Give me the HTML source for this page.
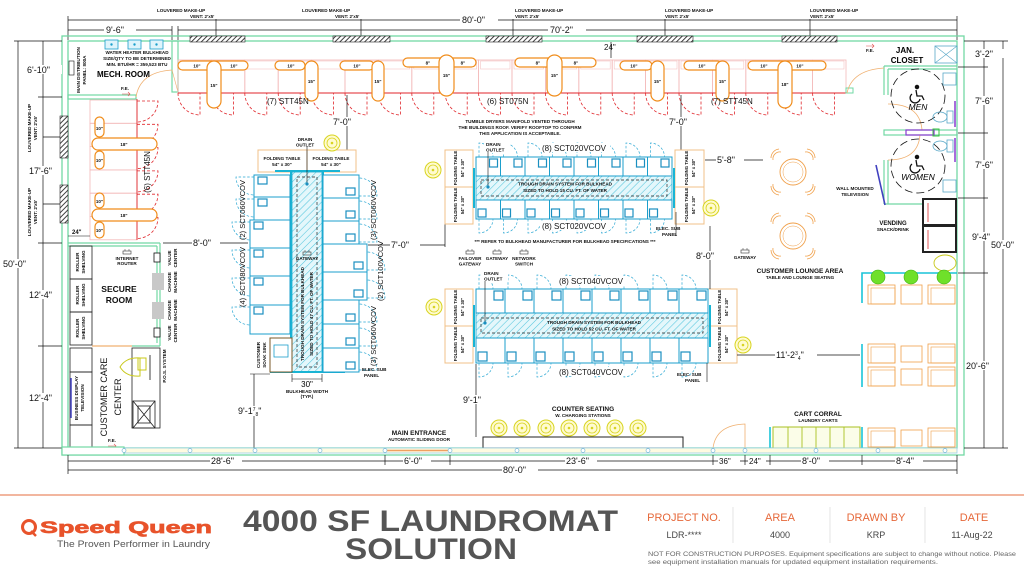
<!DOCTYPE html>
<html><head><meta charset="utf-8">
<style>
html,body{margin:0;padding:0;background:#fff;}
svg{display:block}
text{font-family:"Liberation Sans",sans-serif;}
.s{font-size:4.6px;font-weight:bold;fill:#111}
.m{font-size:8px;fill:#111}
.d{font-size:9px;fill:#111}
.b{font-size:8.5px;font-weight:bold;fill:#111}
</style></head><body>
<svg width="1024" height="576" viewBox="0 0 1024 576" xmlns="http://www.w3.org/2000/svg">
<defs>
<pattern id="hatch" width="3.5" height="3.5" patternUnits="userSpaceOnUse" patternTransform="rotate(45)"><rect width="3.5" height="3.5" fill="#fff"/><line x1="0" y1="0" x2="0" y2="3.5" stroke="#2a2a2a" stroke-width="1.8"/></pattern>
<pattern id="chatch" width="5" height="5" patternUnits="userSpaceOnUse" patternTransform="rotate(45)"><rect width="5" height="5" fill="#e4f7fb"/><line x1="0" y1="0" x2="0" y2="5" stroke="#55c6dd" stroke-width="1.1"/></pattern>
<g id="dr">
<rect x="0" y="0" width="33.4" height="33" fill="none" stroke="#f3b9b9" stroke-width="0.8"/>
<rect x="2" y="1" width="29.4" height="8" fill="none" stroke="#f3c4c4" stroke-width="0.6"/>
<path d="M0 33 A22 22 0 0 0 22 55 V33" fill="none" stroke="#e0262b" stroke-dasharray="3 2" stroke-width="0.8"/>
</g>
<g id="ldr">
<rect x="0" y="0" width="47" height="23.3" fill="none" stroke="#f3b9b9" stroke-width="0.8"/>
<path d="M47 1 H68 A21 21 0 0 1 47 22" fill="none" stroke="#e0262b" stroke-dasharray="3 2" stroke-width="0.8"/>
</g>
<g id="yc"><circle r="8" fill="#fffbd0" stroke="#d8d420" stroke-width="1"/><circle r="5" fill="none" stroke="#d8d420" stroke-width="0.8"/><circle r="1.3" fill="#d8d420"/></g>
<g id="gw"><rect x="-4" y="-2" width="8" height="3" fill="none" stroke="#333" stroke-width="0.6"/><line x1="-2" y1="-2" x2="-2" y2="-4" stroke="#333" stroke-width="0.5"/><line x1="2" y1="-2" x2="2" y2="-4" stroke="#333" stroke-width="0.5"/></g>
<g id="w1t"><rect x="0" y="0" width="24.5" height="19" fill="#fff" stroke="#1b9fcc" stroke-width="1"/><rect x="13.5" y="2" width="8" height="8" fill="#fff" stroke="#1b8fc0" stroke-width="1.2"/><path d="M3 0 V-14 A14 14 0 0 1 17 0" fill="none" stroke="#2aa7d3" stroke-dasharray="2.5 1.8" stroke-width="0.7"/></g>
<g id="w1b"><rect x="0" y="0" width="24.5" height="19" fill="#fff" stroke="#1b9fcc" stroke-width="1"/><rect x="2" y="9" width="8" height="8" fill="#fff" stroke="#1b8fc0" stroke-width="1.2"/><path d="M3 19 V33 A14 14 0 0 0 17 19" fill="none" stroke="#2aa7d3" stroke-dasharray="2.5 1.8" stroke-width="0.7"/></g>
<g id="w2t"><rect x="0" y="0" width="29" height="24" fill="#fff" stroke="#1b9fcc" stroke-width="1"/><rect x="18" y="2" width="9" height="9" fill="#fff" stroke="#1b8fc0" stroke-width="1.2"/><path d="M3 0 V-14 A14 14 0 0 1 17 0" fill="none" stroke="#2aa7d3" stroke-dasharray="2.5 1.8" stroke-width="0.7"/></g>
<g id="w2b"><rect x="0" y="0" width="29" height="25" fill="#fff" stroke="#1b9fcc" stroke-width="1"/><rect x="2" y="14" width="9" height="9" fill="#fff" stroke="#1b8fc0" stroke-width="1.2"/><path d="M3 25 V39 A14 14 0 0 0 17 25" fill="none" stroke="#2aa7d3" stroke-dasharray="2.5 1.8" stroke-width="0.7"/></g>
<g id="tbl"><circle r="13" fill="none" stroke="#f0a04a" stroke-width="0.9"/><circle r="10" fill="none" stroke="#f0a04a" stroke-width="0.5"/>
<g fill="none" stroke="#f0a04a" stroke-width="0.8"><path d="M-20 -12 a7 7 0 0 1 8 -8 M-22 -14 a9 9 0 0 1 8 -9"/><path d="M20 -12 a7 7 0 0 0 -8 -8 M22 -14 a9 9 0 0 0 -8 -9"/><path d="M-20 12 a7 7 0 0 0 8 8 M-22 14 a9 9 0 0 0 8 9"/><path d="M20 12 a7 7 0 0 1 -8 8 M22 14 a9 9 0 0 1 -8 9"/></g></g>
<g id="chair"><rect x="0" y="0" width="27" height="19" fill="none" stroke="#f0a04a" stroke-width="0.8"/><rect x="3" y="3" width="24" height="16" fill="none" stroke="#f0a04a" stroke-width="0.6"/></g>
</defs>

<rect width="1024" height="576" fill="#fff"/>

<!-- ===== top labels & dims ===== -->
<g class="s">
<text x="157" y="12">LOUVERED MAKE-UP</text><text x="190" y="18">VENT: 2'x5'</text>
<text x="302" y="12">LOUVERED MAKE-UP</text><text x="335" y="18">VENT: 2'x5'</text>
<text x="515" y="12">LOUVERED MAKE-UP</text><text x="515" y="18">VENT: 2'x5'</text>
<text x="665" y="12">LOUVERED MAKE-UP</text><text x="665" y="18">VENT: 2'x5'</text>
<text x="810" y="12">LOUVERED MAKE-UP</text><text x="810" y="18">VENT: 2'x5'</text>
</g>
<g stroke="#111" stroke-width="0.7">
<line x1="216" y1="19" x2="216" y2="36"/><line x1="361" y1="19" x2="361" y2="36"/><line x1="513" y1="19" x2="513" y2="36"/><line x1="665" y1="19" x2="665" y2="36"/><line x1="810" y1="19" x2="810" y2="36"/>
<line x1="68" y1="20" x2="957" y2="20"/><line x1="68" y1="30" x2="172" y2="30"/><line x1="178" y1="30" x2="957" y2="30"/>
<line x1="68" y1="16" x2="68" y2="40"/><line x1="957" y1="16" x2="957" y2="40"/><line x1="172" y1="26" x2="172" y2="40"/><line x1="178" y1="26" x2="178" y2="40"/>
</g>
<g fill="#fff"><rect x="460" y="15" width="38" height="9"/><rect x="104" y="25" width="32" height="9"/><rect x="548" y="25" width="38" height="9"/></g>
<text class="d" x="462" y="23">80'-0"</text><text class="d" x="106" y="33">9'-6"</text><text class="d" x="550" y="33">70'-2"</text>

<!-- ===== outer walls ===== -->
<g fill="none" stroke="#72d8a4" stroke-width="1.3">
<rect x="62" y="36" width="902" height="419"/>
<rect x="68" y="41" width="889" height="407"/>
</g>
<g fill="url(#hatch)" stroke="#222" stroke-width="0.6">
<rect x="190" y="36" width="55" height="6"/><rect x="333" y="36" width="57" height="6"/><rect x="486" y="36" width="56" height="6"/><rect x="637" y="36" width="56" height="6"/><rect x="782" y="36" width="55" height="6"/>
<rect x="60" y="116" width="8" height="42"/><rect x="60" y="185" width="8" height="38"/>
</g>

<!-- left dims -->
<g stroke="#111" stroke-width="0.7">
<line x1="18" y1="41" x2="18" y2="448"/><line x1="43" y1="41" x2="43" y2="448"/>
<line x1="14" y1="41" x2="62" y2="41"/><line x1="38" y1="97" x2="62" y2="97"/><line x1="38" y1="243" x2="62" y2="243"/><line x1="38" y1="346" x2="62" y2="346"/><line x1="14" y1="448" x2="62" y2="448"/>
<line x1="43" y1="137" x2="60" y2="137"/><line x1="43" y1="204" x2="60" y2="204"/>
</g>
<g fill="#fff"><rect x="2" y="259" width="32" height="9"/><rect x="28" y="65" width="34" height="9"/><rect x="28" y="166" width="30" height="9"/><rect x="28" y="290" width="30" height="9"/><rect x="28" y="393" width="30" height="9"/></g>
<text class="d" x="3" y="267">50'-0"</text><text class="d" x="27" y="73">6'-10"</text><text class="d" x="29" y="174">17'-6"</text><text class="d" x="29" y="298">12'-4"</text><text class="d" x="29" y="401">12'-4"</text>
<text class="s" transform="rotate(-90 31 128)" x="31" y="128" text-anchor="middle">LOUVERED MAKE-UP</text>
<text class="s" transform="rotate(-90 37 128)" x="37" y="128" text-anchor="middle">VENT: 2'x5'</text>
<text class="s" transform="rotate(-90 31 212)" x="31" y="212" text-anchor="middle">LOUVERED MAKE-UP</text>
<text class="s" transform="rotate(-90 37 212)" x="37" y="212" text-anchor="middle">VENT: 2'x5'</text>

<!-- right dims -->
<g stroke="#111" stroke-width="0.7">
<line x1="1003" y1="41" x2="1003" y2="448"/><line x1="984" y1="41" x2="984" y2="448"/>
<line x1="964" y1="41" x2="1008" y2="41"/><line x1="958" y1="67" x2="988" y2="67"/><line x1="958" y1="133" x2="988" y2="133"/><line x1="958" y1="198" x2="988" y2="198"/><line x1="958" y1="273" x2="988" y2="273"/><line x1="964" y1="448" x2="1008" y2="448"/>
</g>
<g fill="#fff"><rect x="972" y="49" width="32" height="9"/><rect x="972" y="96" width="30" height="9"/><rect x="972" y="160" width="30" height="9"/><rect x="972" y="232" width="28" height="9"/><rect x="990" y="240" width="34" height="9"/><rect x="965" y="361" width="32" height="9"/></g>
<text class="d" x="975" y="57">3'-2"</text><text class="d" x="975" y="104">7'-6"</text><text class="d" x="975" y="168">7'-6"</text><text class="d" x="972" y="240">9'-4"</text><text class="d" x="991" y="248">50'-0"</text><text class="d" x="966" y="369">20'-6"</text>

<!-- ===== mech room ===== -->
<g fill="none" stroke="#72d8a4" stroke-width="1.2">
<rect x="172" y="41" width="6" height="51"/>
<rect x="68" y="95" width="68" height="4"/>
</g>
<path d="M136 97 Q140 72 172 70" fill="none" stroke="#f0b070" stroke-width="0.8"/>
<line x1="172" y1="70" x2="178" y2="92" stroke="#f0b070" stroke-width="0.6"/>
<g fill="#dff4fb" stroke="#1b9fcc" stroke-width="0.8"><rect x="105" y="40" width="13" height="9"/><rect x="128" y="40" width="13" height="9"/><rect x="150" y="40" width="13" height="9"/></g>
<g fill="#1b9fcc"><circle cx="111.5" cy="44.5" r="1.2"/><circle cx="134.5" cy="44.5" r="1.2"/><circle cx="156.5" cy="44.5" r="1.2"/></g>
<text class="s" x="137" y="54" text-anchor="middle">WATER HEATER BULKHEAD</text>
<text class="s" x="137" y="60" text-anchor="middle">SIZE/QTY TO BE DETERMINED</text>
<text class="s" x="137" y="66" text-anchor="middle">MIN. BTU/HR = 359,523 BTU</text>
<text x="97" y="77" style="font-size:8px;font-weight:bold">MECH. ROOM</text>
<rect x="69" y="61" width="5" height="14" fill="none" stroke="#111" stroke-width="0.6"/>
<text class="s" transform="rotate(-90 80 70)" x="80" y="70" text-anchor="middle">MAIN DISTRIBUTION</text>
<text class="s" transform="rotate(-90 86 70)" x="86" y="70" text-anchor="middle">PANEL: 800A</text>
<text class="s" x="121" y="90">F.E.</text>
<path d="M122 94 h8 m-2 -2 l2 2 l-2 2" fill="none" stroke="#e05050" stroke-width="0.6"/>

<!-- ===== top dryer row ===== -->
<use href="#dr" x="178" y="60"/><use href="#dr" x="211.4" y="60"/><use href="#dr" x="244.8" y="60"/><use href="#dr" x="278.2" y="60"/><use href="#dr" x="311.6" y="60"/><use href="#dr" x="345" y="60"/><use href="#dr" x="378.4" y="60"/><use href="#dr" x="411.8" y="60"/><use href="#dr" x="445.2" y="60"/><use href="#dr" x="478.6" y="60"/><use href="#dr" x="512" y="60"/><use href="#dr" x="545.4" y="60"/><use href="#dr" x="578.8" y="60"/><use href="#dr" x="612.2" y="60"/><use href="#dr" x="645.6" y="60"/><use href="#dr" x="679" y="60"/><use href="#dr" x="712.4" y="60"/><use href="#dr" x="745.8" y="60"/><use href="#dr" x="779.2" y="60"/><use href="#dr" x="812.6" y="60"/>
<line x1="178" y1="93" x2="846" y2="93" stroke="#e0262b" stroke-width="0.9"/>
<rect x="846" y="88" width="7" height="5" fill="none" stroke="#72d8a4" stroke-width="1"/>
<g fill="#fff" stroke="#f08c1a" stroke-width="1.2">
<rect x="178" y="61" width="70" height="9" rx="4.5"/><rect x="275" y="61" width="30" height="9" rx="4.5"/><rect x="340" y="61" width="34" height="9" rx="4.5"/>
<rect x="403" y="58" width="73" height="9" rx="4.5"/><rect x="515" y="58" width="81" height="9" rx="4.5"/>
<rect x="620" y="61" width="32" height="9" rx="4.5"/><rect x="684" y="61" width="38" height="9" rx="4.5"/><rect x="748" y="61" width="78" height="9" rx="4.5"/>
<rect x="207" y="61" width="14" height="47" rx="7"/><rect x="305" y="61" width="13" height="40" rx="6.5"/><rect x="372" y="61" width="12" height="40" rx="6"/>
<rect x="439" y="55" width="15" height="41" rx="7.5"/><rect x="547" y="55" width="15" height="41" rx="7.5"/>
<rect x="651" y="61" width="13" height="40" rx="6.5"/><rect x="716" y="61" width="13" height="40" rx="6.5"/><rect x="778" y="61" width="14" height="47" rx="7"/>
</g>
<g style="font-size:4.5px;font-weight:bold;fill:#111" text-anchor="middle">
<text x="197" y="67.5">10"</text><text x="234" y="67.5">10"</text><text x="291" y="67.5">10"</text><text x="357" y="67.5">10"</text>
<text x="428" y="64.5">8"</text><text x="463" y="64.5">8"</text><text x="538" y="64.5">8"</text><text x="576" y="64.5">8"</text>
<text x="634" y="67.5">10"</text><text x="702" y="67.5">10"</text><text x="764" y="67.5">10"</text><text x="800" y="67.5">10"</text>
<text x="214" y="87">15"</text><text x="311.5" y="83">15"</text><text x="378" y="83">15"</text><text x="446.5" y="77">15"</text><text x="554.5" y="77">15"</text><text x="657.5" y="83">15"</text><text x="722.5" y="83">15"</text><text x="785" y="86">18"</text>
</g>
<text class="m" x="267" y="104">(7) STT45N</text><text class="m" x="487" y="104">(6) ST075N</text><text class="m" x="711" y="104">(7) STT45N</text>

<text class="s" x="520" y="123" text-anchor="middle">TUMBLE DRYERS MANIFOLD VENTED THROUGH</text>
<text class="s" x="520" y="129" text-anchor="middle">THE BUILDINGS ROOF. VERIFY ROOFTOP TO CONFIRM</text>
<text class="s" x="520" y="135" text-anchor="middle">THIS APPLICATION IS ACCEPTABLE.</text>
<g stroke="#111" stroke-width="0.7"><line x1="347" y1="95" x2="347" y2="150"/><line x1="681" y1="95" x2="681" y2="150"/><line x1="611" y1="42" x2="611" y2="58"/></g>
<g fill="#fff"><rect x="332" y="117" width="30" height="9"/><rect x="668" y="117" width="30" height="9"/></g>
<text class="d" x="333" y="125">7'-0"</text><text class="d" x="669" y="125">7'-0"</text>
<text class="d" x="604" y="50" style="font-size:8px">24"</text>

<!-- ===== left dryer column ===== -->
<use href="#ldr" x="90" y="100"/><use href="#ldr" x="90" y="123.3"/><use href="#ldr" x="90" y="146.6"/><use href="#ldr" x="90" y="169.9"/><use href="#ldr" x="90" y="193.2"/><use href="#ldr" x="90" y="216.5"/>
<line x1="137" y1="99" x2="137" y2="240" stroke="#e0262b" stroke-width="0.9"/>
<g fill="#fff" stroke="#f08c1a" stroke-width="1.2">
<rect x="95" y="117" width="9" height="20" rx="4.5"/><rect x="92" y="138" width="65" height="12" rx="6"/><rect x="95" y="151" width="9" height="18" rx="4.5"/>
<rect x="95" y="193" width="9" height="15" rx="4.5"/><rect x="92" y="209" width="65" height="12" rx="6"/><rect x="95" y="222" width="9" height="16" rx="4.5"/>
</g>
<g style="font-size:4.5px;font-weight:bold;fill:#111" text-anchor="middle">
<text x="99.5" y="130">10"</text><text x="124" y="146">18"</text><text x="99.5" y="162">10"</text>
<text x="99.5" y="203">10"</text><text x="124" y="217">18"</text><text x="99.5" y="232">10"</text>
</g>
<text class="m" transform="rotate(-90 150 172)" x="150" y="172" text-anchor="middle">(6) STT45N</text>
<line x1="68" y1="236" x2="90" y2="236" stroke="#111" stroke-width="0.6"/>
<text class="s" x="72" y="234" style="font-size:6px">24"</text>

<!-- ===== secure room ===== -->
<g fill="none" stroke="#72d8a4" stroke-width="1.2">
<line x1="68" y1="243" x2="160" y2="243"/><line x1="68" y1="246" x2="157" y2="246"/>
<line x1="160" y1="243" x2="160" y2="346"/><line x1="157" y1="246" x2="157" y2="343"/>
<line x1="132" y1="346" x2="160" y2="346"/>
</g>
<line x1="92" y1="346" x2="132" y2="346" stroke="#f0b070" stroke-width="1.2"/>
<g fill="none" stroke="#222" stroke-width="0.8"><rect x="70" y="246" width="22" height="33"/><rect x="70" y="279" width="22" height="33"/><rect x="70" y="312" width="22" height="33"/></g>
<g class="s">
<text transform="rotate(-90 79 262)" x="79" y="262" text-anchor="middle">ROLLER</text><text transform="rotate(-90 85 262)" x="85" y="262" text-anchor="middle">SHELVING</text>
<text transform="rotate(-90 79 295)" x="79" y="295" text-anchor="middle">ROLLER</text><text transform="rotate(-90 85 295)" x="85" y="295" text-anchor="middle">SHELVING</text>
<text transform="rotate(-90 79 328)" x="79" y="328" text-anchor="middle">ROLLER</text><text transform="rotate(-90 85 328)" x="85" y="328" text-anchor="middle">SHELVING</text>
</g>
<use href="#gw" x="127" y="253"/>
<text class="s" x="127" y="260" text-anchor="middle">INTERNET</text><text class="s" x="127" y="265" text-anchor="middle">ROUTER</text>
<text class="b" x="119" y="292" text-anchor="middle">SECURE</text><text class="b" x="119" y="303" text-anchor="middle">ROOM</text>
<g fill="#fff" stroke="#111" stroke-width="0.8"><rect x="154" y="253" width="6" height="9"/><rect x="154" y="328" width="6" height="9"/></g>
<g fill="#c8c8c8"><rect x="152" y="273" width="12" height="17"/><rect x="152" y="302" width="12" height="17"/></g>
<g class="s">
<text transform="rotate(-90 171 258)" x="171" y="258" text-anchor="middle">VALUE</text><text transform="rotate(-90 177 258)" x="177" y="258" text-anchor="middle">CENTER</text>
<text transform="rotate(-90 171 282)" x="171" y="282" text-anchor="middle">CHANGE</text><text transform="rotate(-90 177 282)" x="177" y="282" text-anchor="middle">MACHINE</text>
<text transform="rotate(-90 171 310)" x="171" y="310" text-anchor="middle">CHANGE</text><text transform="rotate(-90 177 310)" x="177" y="310" text-anchor="middle">MACHINE</text>
<text transform="rotate(-90 171 333)" x="171" y="333" text-anchor="middle">VALUE</text><text transform="rotate(-90 177 333)" x="177" y="333" text-anchor="middle">CENTER</text>
</g>
<line x1="163" y1="243" x2="248" y2="243" stroke="#111" stroke-width="0.7"/>
<rect x="192" y="238" width="28" height="9" fill="#fff"/><text class="d" x="193" y="246">8'-0"</text>

<!-- ===== customer care ===== -->
<g fill="none" stroke="#222" stroke-width="0.8">
<rect x="70" y="348" width="22" height="24"/><rect x="70" y="372" width="22" height="53"/><rect x="70" y="425" width="22" height="23"/>
<rect x="132" y="348" width="28" height="80"/><rect x="133" y="401" width="22" height="27"/>
<path d="M133 401 L155 428 M155 401 L133 428"/><rect x="138" y="406" width="12" height="17"/>
</g>
<line x1="71" y1="378" x2="71" y2="418" stroke="#4040c0" stroke-width="1.5"/>
<text class="s" transform="rotate(-90 78 398)" x="78" y="398" text-anchor="middle">BUSINESS DISPLAY</text>
<text class="s" transform="rotate(-90 84 398)" x="84" y="398" text-anchor="middle">TELEVISION</text>
<text transform="rotate(-90 107 397)" x="107" y="397" text-anchor="middle" style="font-size:9px;fill:#111">CUSTOMER CARE</text>
<text transform="rotate(-90 121 397)" x="121" y="397" text-anchor="middle" style="font-size:9px;fill:#111">CENTER</text>
<g fill="none" stroke="#c8c81a" stroke-width="1"><path d="M120 367 Q126 357 140 358 L140 376 Q126 377 120 367 Z"/><rect x="138" y="358" width="8" height="12"/></g>
<line x1="150" y1="355" x2="150" y2="380" stroke="#111" stroke-width="0.8"/>
<text class="s" transform="rotate(-90 166 366)" x="166" y="366" text-anchor="middle">P.O.S. SYSTEM</text>
<text class="s" x="108" y="442">F.E.</text>
<path d="M108 446 h8 m-2 -2 l2 2 l-2 2" fill="none" stroke="#e05050" stroke-width="0.6"/>

<!-- ===== central left washer block ===== -->
<g fill="#fff" stroke="#f0c088" stroke-width="1"><rect x="258" y="150" width="49" height="22"/><rect x="307" y="150" width="49" height="22"/></g>
<g class="s" text-anchor="middle"><text x="282" y="160">FOLDING  TABLE</text><text x="282" y="166">54" x 30"</text><text x="331" y="160">FOLDING  TABLE</text><text x="331" y="166">54" x 30"</text></g>
<text class="s" x="305" y="141" text-anchor="middle">DRAIN</text><text class="s" x="305" y="146.5" text-anchor="middle">OUTLET</text>
<use href="#yc" x="332" y="143"/>
<rect x="292" y="172" width="30" height="200" fill="url(#chatch)" stroke="#1ba7cf" stroke-width="0.8"/>
<rect x="297" y="177" width="20" height="190" fill="none" stroke="#222" stroke-width="0.7" stroke-dasharray="3 2"/>
<g stroke="#19b4d4" stroke-width="2"><line x1="291" y1="172" x2="291" y2="372"/><line x1="323" y1="172" x2="323" y2="372"/><line x1="270" y1="372" x2="345" y2="372"/><line x1="275" y1="171" x2="340" y2="171"/></g>
<line x1="307" y1="147" x2="307" y2="183" stroke="#111" stroke-width="0.6"/><circle cx="307" cy="184" r="1.6" fill="#1b8fc0"/>
<use href="#gw" x="307" y="254"/><text class="s" x="307" y="260" text-anchor="middle">GATEWAY</text>
<text class="s" transform="rotate(-90 304 314)" x="304" y="314" text-anchor="middle">TROUGH DRAIN SYSTEM FOR BULKHEAD</text>
<text class="s" transform="rotate(-90 313 314)" x="313" y="314" text-anchor="middle">SIZED TO HOLD 47 CU. FT. OF WATER</text>
<g fill="#fff" stroke="#1b9fcc" stroke-width="1">
<rect x="254" y="175" width="36" height="22"/><rect x="254" y="197" width="36" height="23"/>
<rect x="250" y="220" width="40" height="28"/><rect x="250" y="248" width="40" height="28"/><rect x="250" y="276" width="40" height="29"/><rect x="250" y="305" width="40" height="29"/>
</g>
<g fill="#fff" stroke="#1b8fc0" stroke-width="1.2">
<rect x="258" y="177" width="9" height="7"/><rect x="258" y="199" width="9" height="7"/><rect x="254" y="222" width="9" height="7"/><rect x="254" y="250" width="9" height="7"/><rect x="254" y="278" width="9" height="7"/><rect x="254" y="307" width="9" height="7"/>
</g>
<g fill="none" stroke="#2aa7d3" stroke-width="0.7" stroke-dasharray="2.5 1.8">
<path d="M254 177 H236 A18 18 0 0 0 254 195"/><path d="M254 199 H236 A18 18 0 0 0 254 217"/><path d="M250 222 H232 A18 18 0 0 0 250 240"/><path d="M250 250 H232 A18 18 0 0 0 250 268"/><path d="M250 278 H232 A18 18 0 0 0 250 296"/><path d="M250 307 H232 A18 18 0 0 0 250 325"/>
</g>
<g fill="#fff" stroke="#1b9fcc" stroke-width="1">
<rect x="323" y="175" width="36" height="23"/><rect x="323" y="198" width="36" height="23"/><rect x="323" y="221" width="36" height="23"/>
<rect x="323" y="244" width="44" height="28"/><rect x="323" y="272" width="44" height="28"/>
<rect x="323" y="300" width="36" height="24"/><rect x="323" y="324" width="36" height="24"/><rect x="323" y="348" width="36" height="24"/>
</g>
<g fill="#fff" stroke="#1b8fc0" stroke-width="1.2">
<rect x="346" y="188" width="9" height="7"/><rect x="346" y="211" width="9" height="7"/><rect x="346" y="234" width="9" height="7"/><rect x="354" y="262" width="9" height="7"/><rect x="354" y="290" width="9" height="7"/><rect x="346" y="314" width="9" height="7"/><rect x="346" y="338" width="9" height="7"/><rect x="346" y="362" width="9" height="7"/>
</g>
<g fill="none" stroke="#2aa7d3" stroke-width="0.7" stroke-dasharray="2.5 1.8">
<path d="M359 196 H377 A18 18 0 0 0 359 178"/><path d="M359 219 H377 A18 18 0 0 0 359 201"/><path d="M359 242 H377 A18 18 0 0 0 359 224"/><path d="M367 270 H385 A18 18 0 0 0 367 252"/><path d="M367 298 H385 A18 18 0 0 0 367 280"/><path d="M359 322 H377 A18 18 0 0 0 359 304"/><path d="M359 346 H377 A18 18 0 0 0 359 328"/><path d="M359 370 H377 A18 18 0 0 0 359 352"/>
</g>
<g class="m" style="font-size:7.5px">
<text transform="rotate(-90 245 210)" x="245" y="210" text-anchor="middle">(2) SCT060VCOV</text>
<text transform="rotate(-90 245 277)" x="245" y="277" text-anchor="middle">(4) SCT080VCOV</text>
<text transform="rotate(-90 376 210)" x="376" y="210" text-anchor="middle">(3) SCT060VCOV</text>
<text transform="rotate(-90 383 271)" x="383" y="271" text-anchor="middle">(2) SCT100VCOV</text>
<text transform="rotate(-90 376 336)" x="376" y="336" text-anchor="middle">(3) SCT060VCOV</text>
</g>
<rect x="270" y="338" width="22" height="34" fill="#fff" stroke="#7a5a2a" stroke-width="1"/>
<rect x="274" y="345" width="14" height="12" fill="none" stroke="#1b9fcc" stroke-width="0.8"/>
<text class="s" transform="rotate(-90 260 355)" x="260" y="355" text-anchor="middle">CUSTOMER</text>
<text class="s" transform="rotate(-90 266 355)" x="266" y="355" text-anchor="middle">SOAK SINK</text>
<text class="s" x="362" y="371">ELEC. SUB</text><text class="s" x="364" y="377">PANEL</text>
<g stroke="#111" stroke-width="0.6"><line x1="292" y1="379" x2="322" y2="379"/><line x1="292" y1="374" x2="292" y2="382"/><line x1="322" y1="374" x2="322" y2="382"/></g>
<text x="307" y="387" text-anchor="middle" style="font-size:8px">30"</text>
<text class="s" x="307" y="393" text-anchor="middle">BULKHEAD WIDTH</text><text class="s" x="307" y="398" text-anchor="middle">(TYP.)</text>
<line x1="254" y1="374" x2="254" y2="448" stroke="#111" stroke-width="0.7"/>
<line x1="250" y1="374" x2="270" y2="374" stroke="#111" stroke-width="0.6"/>
<rect x="236" y="406" width="36" height="10" fill="#fff"/><text class="d" x="238" y="414">9'-1<tspan style="font-size:5px" dy="-3">7</tspan><tspan style="font-size:5px" dy="5">8</tspan><tspan dy="-2">"</tspan></text>
<line x1="368" y1="245" x2="445" y2="245" stroke="#111" stroke-width="0.7"/>
<line x1="445" y1="224" x2="445" y2="247" stroke="#111" stroke-width="0.7"/>
<rect x="390" y="240" width="30" height="9" fill="#fff"/><text class="d" x="391" y="248">7'-0"</text>

<!-- ===== middle block 1 (SCT020) ===== -->
<g fill="#fff" stroke="#f0c088" stroke-width="1"><rect x="445" y="150" width="28" height="37"/><rect x="445" y="187" width="28" height="37"/><rect x="675" y="150" width="29" height="37"/><rect x="675" y="187" width="29" height="37"/></g>
<g class="s" style="font-size:4.3px">
<text transform="rotate(-90 457 168)" x="457" y="168" text-anchor="middle">FOLDING TABLE</text><text transform="rotate(-90 464 168)" x="464" y="168" text-anchor="middle">54" x 30"</text>
<text transform="rotate(-90 457 205)" x="457" y="205" text-anchor="middle">FOLDING TABLE</text><text transform="rotate(-90 464 205)" x="464" y="205" text-anchor="middle">54" x 30"</text>
<text transform="rotate(-90 688 168)" x="688" y="168" text-anchor="middle">FOLDING TABLE</text><text transform="rotate(-90 695 168)" x="695" y="168" text-anchor="middle">54" x 30"</text>
<text transform="rotate(-90 688 205)" x="688" y="205" text-anchor="middle">FOLDING TABLE</text><text transform="rotate(-90 695 205)" x="695" y="205" text-anchor="middle">54" x 30"</text>
</g>
<rect x="476" y="176" width="196" height="24" fill="url(#chatch)" stroke="#1ba7cf" stroke-width="0.8"/>
<rect x="481" y="180" width="186" height="16" fill="none" stroke="#222" stroke-width="0.7" stroke-dasharray="3 2"/>
<g stroke="#19b4d4" stroke-width="2"><line x1="474" y1="168" x2="474" y2="208"/><line x1="674" y1="168" x2="674" y2="208"/></g>
<use href="#w1t" x="476" y="157"/><use href="#w1t" x="500.5" y="157"/><use href="#w1t" x="525" y="157"/><use href="#w1t" x="549.5" y="157"/><use href="#w1t" x="574" y="157"/><use href="#w1t" x="598.5" y="157"/><use href="#w1t" x="623" y="157"/><use href="#w1t" x="647.5" y="157"/>
<use href="#w1b" x="476" y="200"/><use href="#w1b" x="500.5" y="200"/><use href="#w1b" x="525" y="200"/><use href="#w1b" x="549.5" y="200"/><use href="#w1b" x="574" y="200"/><use href="#w1b" x="598.5" y="200"/><use href="#w1b" x="623" y="200"/><use href="#w1b" x="647.5" y="200"/>
<text class="s" x="565" y="185.5" text-anchor="middle">TROUGH  DRAIN  SYSTEM  FOR  BULKHEAD</text>
<text class="s" x="565" y="192" text-anchor="middle">SIZED  TO  HOLD  15  CU.  FT.  OF  WATER</text>
<rect x="540" y="143" width="70" height="9" fill="#fff"/><text class="m" x="574" y="151" text-anchor="middle">(8)  SCT020VCOV</text>
<rect x="540" y="221" width="70" height="9" fill="#fff"/><text class="m" x="574" y="229" text-anchor="middle">(8)  SCT020VCOV</text>
<rect x="484" y="141" width="26" height="12" fill="#fff"/>
<text class="s" x="486" y="146">DRAIN</text><text class="s" x="486" y="151.5">OUTLET</text>
<line x1="488" y1="152" x2="488" y2="186" stroke="#111" stroke-width="0.6"/><circle cx="488" cy="187" r="1.6" fill="#1b8fc0"/>
<text class="s" x="656" y="230">ELEC. SUB</text><text class="s" x="662" y="236">PANEL</text>
<line x1="676" y1="212" x2="676" y2="236" stroke="#111" stroke-width="0.6"/>
<text class="s" x="565" y="243" text-anchor="middle">*** REFER TO BULKHEAD MANUFACTURER FOR BULKHEAD SPECIFICATIONS ***</text>
<use href="#yc" x="433" y="170"/><use href="#yc" x="711" y="208"/>
<use href="#gw" x="470" y="253"/><use href="#gw" x="497" y="253"/><use href="#gw" x="524" y="253"/>
<text class="s" x="470" y="260" text-anchor="middle">FAILOVER</text><text class="s" x="470" y="265.5" text-anchor="middle">GATEWAY</text>
<text class="s" x="497" y="260" text-anchor="middle">GATEWAY</text>
<text class="s" x="524" y="260" text-anchor="middle">NETWORK</text><text class="s" x="524" y="265.5" text-anchor="middle">SWITCH</text>

<!-- ===== middle block 2 (SCT040) ===== -->
<g fill="#fff" stroke="#f0c088" stroke-width="1"><rect x="445" y="289" width="28" height="37"/><rect x="445" y="326" width="28" height="37"/><rect x="708" y="289" width="29" height="37"/><rect x="708" y="326" width="29" height="37"/></g>
<g class="s" style="font-size:4.3px">
<text transform="rotate(-90 457 307)" x="457" y="307" text-anchor="middle">FOLDING TABLE</text><text transform="rotate(-90 464 307)" x="464" y="307" text-anchor="middle">54" x 30"</text>
<text transform="rotate(-90 457 344)" x="457" y="344" text-anchor="middle">FOLDING TABLE</text><text transform="rotate(-90 464 344)" x="464" y="344" text-anchor="middle">54" x 30"</text>
<text transform="rotate(-90 721 307)" x="721" y="307" text-anchor="middle">FOLDING TABLE</text><text transform="rotate(-90 728 307)" x="728" y="307" text-anchor="middle">54" x 30"</text>
<text transform="rotate(-90 721 344)" x="721" y="344" text-anchor="middle">FOLDING TABLE</text><text transform="rotate(-90 728 344)" x="728" y="344" text-anchor="middle">54" x 30"</text>
</g>
<rect x="476" y="313" width="232" height="25" fill="url(#chatch)" stroke="#1ba7cf" stroke-width="0.8"/>
<rect x="481" y="318" width="222" height="15" fill="none" stroke="#222" stroke-width="0.7" stroke-dasharray="3 2"/>
<g stroke="#19b4d4" stroke-width="2"><line x1="474" y1="305" x2="474" y2="347"/><line x1="710" y1="305" x2="710" y2="347"/></g>
<use href="#w2t" x="476" y="289"/><use href="#w2t" x="505" y="289"/><use href="#w2t" x="534" y="289"/><use href="#w2t" x="563" y="289"/><use href="#w2t" x="592" y="289"/><use href="#w2t" x="621" y="289"/><use href="#w2t" x="650" y="289"/><use href="#w2t" x="679" y="289"/>
<use href="#w2b" x="476" y="338"/><use href="#w2b" x="505" y="338"/><use href="#w2b" x="534" y="338"/><use href="#w2b" x="563" y="338"/><use href="#w2b" x="592" y="338"/><use href="#w2b" x="621" y="338"/><use href="#w2b" x="650" y="338"/><use href="#w2b" x="679" y="338"/>
<text class="s" x="594" y="324" text-anchor="middle">TROUGH  DRAIN  SYSTEM  FOR  BULKHEAD</text>
<text class="s" x="594" y="330.5" text-anchor="middle">SIZED  TO  HOLD  52  CU.  FT.  OF  WATER</text>
<rect x="555" y="276" width="72" height="9" fill="#fff"/><text class="m" x="591" y="284" text-anchor="middle">(8)  SCT040VCOV</text>
<rect x="555" y="367" width="72" height="9" fill="#fff"/><text class="m" x="591" y="375" text-anchor="middle">(8)  SCT040VCOV</text>
<rect x="482" y="270" width="26" height="12" fill="#fff"/>
<text class="s" x="484" y="275">DRAIN</text><text class="s" x="484" y="280.5">OUTLET</text>
<line x1="485" y1="281" x2="485" y2="322" stroke="#111" stroke-width="0.6"/><circle cx="485" cy="323" r="1.6" fill="#1b8fc0"/>
<text class="s" x="677" y="376">ELEC. SUB</text><text class="s" x="685" y="382">PANEL</text>
<line x1="707" y1="363" x2="707" y2="382" stroke="#111" stroke-width="0.6"/>
<use href="#yc" x="434" y="307"/><use href="#yc" x="743" y="345"/>
<line x1="710" y1="226" x2="710" y2="289" stroke="#111" stroke-width="0.7"/>
<rect x="695" y="251" width="30" height="9" fill="#fff"/><text class="d" x="696" y="259">8'-0"</text>
<line x1="476" y1="364" x2="476" y2="437" stroke="#111" stroke-width="0.7"/>
<rect x="462" y="395" width="26" height="9" fill="#fff"/><text class="d" x="463" y="403">9'-1"</text>

<!-- counter seating -->
<text class="b" x="583" y="411" text-anchor="middle" style="font-size:6.5px">COUNTER SEATING</text>
<text class="s" x="583" y="417" text-anchor="middle">W. CHARGING STATIONS</text>
<use href="#yc" x="499" y="428"/><use href="#yc" x="522" y="428"/><use href="#yc" x="546" y="428"/><use href="#yc" x="569" y="428"/><use href="#yc" x="592" y="428"/><use href="#yc" x="615" y="428"/><use href="#yc" x="638" y="428"/>
<rect x="483" y="437" width="200" height="11" fill="#fff" stroke="#222" stroke-width="1"/>
<text class="b" x="419" y="435" text-anchor="middle" style="font-size:6.5px">MAIN ENTRANCE</text>
<text class="s" x="419" y="441" text-anchor="middle">AUTOMATIC SLIDING DOOR</text>

<!-- ===== right side ===== -->
<line x1="705" y1="160" x2="763" y2="160" stroke="#111" stroke-width="0.7"/>
<rect x="716" y="155" width="28" height="9" fill="#fff"/><text class="d" x="717" y="163">5'-8"</text>
<use href="#tbl" x="793" y="172"/><use href="#tbl" x="793" y="236"/>
<use href="#gw" x="745" y="252"/><text class="s" x="745" y="259" text-anchor="middle">GATEWAY</text>
<text class="b" x="800" y="273" text-anchor="middle" style="font-size:6.5px">CUSTOMER LOUNGE AREA</text>
<text class="s" x="800" y="279" text-anchor="middle">TABLE AND LOUNGE SEATING</text>
<line x1="737" y1="355" x2="860" y2="355" stroke="#111" stroke-width="0.7"/>
<rect x="775" y="349" width="42" height="10" fill="#fff"/><text class="d" x="776" y="358">11'-2<tspan style="font-size:5px" dy="-3">3</tspan><tspan style="font-size:5px" dy="5">4</tspan><tspan dy="-2">"</tspan></text>

<!-- restrooms -->
<g fill="none" stroke="#72d8a4" stroke-width="1.2">
<line x1="884" y1="66" x2="957" y2="66"/><line x1="888" y1="69" x2="957" y2="69"/>
<line x1="884" y1="66" x2="884" y2="95"/><line x1="888" y1="69" x2="888" y2="95"/>
<rect x="884" y="130" width="73" height="5"/>
<line x1="884" y1="160" x2="884" y2="204"/><line x1="888" y1="160" x2="888" y2="204"/>
<line x1="884" y1="204" x2="957" y2="204"/>
</g>
<path d="M847 93 Q852 70 884 68" fill="none" stroke="#f0b070" stroke-width="0.8"/>
<path d="M888 104 Q920 104 922 130" fill="none" stroke="#f0b070" stroke-width="0.8"/>
<path d="M888 160 Q918 160 920 135" fill="none" stroke="#f0b070" stroke-width="0.8"/>
<rect x="906" y="130" width="28" height="5" fill="none" stroke="#8a3ad0" stroke-width="1.2"/>
<rect x="933" y="129" width="6" height="7" fill="none" stroke="#3ac040" stroke-width="1"/>
<text x="905" y="53" text-anchor="middle" style="font-size:8px;font-weight:bold">JAN.</text>
<text x="907" y="63" text-anchor="middle" style="font-size:8px;font-weight:bold">CLOSET</text>
<rect x="935" y="46" width="22" height="17" fill="none" stroke="#5aa8c8" stroke-width="0.8"/>
<path d="M935 46 L957 63 M957 46 L935 63" stroke="#5aa8c8" stroke-width="0.6"/>
<text class="s" x="866" y="52">F.E.</text>
<path d="M866 46 h8 m-2 -2 l2 2 l-2 2" fill="none" stroke="#e05050" stroke-width="0.6"/>
<circle cx="918" cy="96" r="27" fill="none" stroke="#111" stroke-width="0.8" stroke-dasharray="8 4"/>
<circle cx="918" cy="166" r="27" fill="none" stroke="#111" stroke-width="0.8" stroke-dasharray="8 4"/>
<g fill="none" stroke="#111" stroke-width="1.3">
<circle cx="917" cy="87" r="1.6" fill="#111"/><path d="M916 90 L917 96 H922 L924 100 M912 94 A5 5 0 1 0 920 99"/>
<circle cx="917" cy="157" r="1.6" fill="#111"/><path d="M916 160 L917 166 H922 L924 170 M912 164 A5 5 0 1 0 920 169"/>
</g>
<text x="918" y="110" text-anchor="middle" style="font-size:8.5px;font-style:italic">MEN</text>
<text x="918" y="180" text-anchor="middle" style="font-size:8.5px;font-style:italic">WOMEN</text>
<g fill="none" stroke="#5aa8c8" stroke-width="0.8">
<rect x="943" y="73" width="13" height="12"/><rect x="943" y="180" width="13" height="12"/>
<ellipse cx="940" cy="117" rx="7" ry="5"/><rect x="947" y="111" width="6" height="12"/>
<ellipse cx="940" cy="146" rx="7" ry="5"/><rect x="947" y="140" width="6" height="12"/>
</g>
<g stroke="#8a3ad0" stroke-width="1.5"><line x1="955" y1="101" x2="955" y2="127"/><line x1="955" y1="138" x2="955" y2="162"/></g>
<line x1="876" y1="165" x2="885" y2="205" stroke="#4040c0" stroke-width="1.6"/>
<text class="s" x="855" y="190" text-anchor="middle">WALL MOUNTED</text><text class="s" x="855" y="196" text-anchor="middle">TELEVISION</text>
<g fill="#fff" stroke="#222" stroke-width="2"><rect x="923" y="199" width="33" height="26"/><rect x="923" y="226" width="33" height="26"/></g>
<g stroke="#e03030" stroke-width="0.8"><line x1="928" y1="203" x2="928" y2="222"/><line x1="928" y1="230" x2="928" y2="249"/></g>
<text class="b" x="893" y="225" text-anchor="middle" style="font-size:6px">VENDING</text>
<text class="s" x="893" y="231" text-anchor="middle">SNACK/DRINK</text>
<ellipse cx="945" cy="263" rx="11" ry="8" fill="#fff" stroke="#c8c81a" stroke-width="0.9"/>
<g stroke="#19c4d8" stroke-width="1.6" fill="none"><path d="M862 303 V273 H957"/><line x1="862" y1="344" x2="862" y2="387"/><line x1="862" y1="427" x2="862" y2="448"/></g>
<g fill="#6fe02a" stroke="#3cb010" stroke-width="0.6"><circle cx="878" cy="277" r="7"/><circle cx="911" cy="277" r="7"/><circle cx="944" cy="277" r="7"/></g>
<use href="#chair" x="868" y="285"/><use href="#chair" x="928" y="285"/><rect x="901" y="285" width="21" height="19" fill="none" stroke="#f0a04a" stroke-width="0.8"/>
<use href="#chair" x="868" y="344"/><use href="#chair" x="928" y="344"/><rect x="901" y="346" width="21" height="16" fill="none" stroke="#f0a04a" stroke-width="0.8"/>
<use href="#chair" x="868" y="367"/><use href="#chair" x="928" y="367"/><rect x="901" y="369" width="21" height="16" fill="none" stroke="#f0a04a" stroke-width="0.8"/>
<use href="#chair" x="868" y="428"/><use href="#chair" x="928" y="428"/><rect x="901" y="430" width="21" height="16" fill="none" stroke="#f0a04a" stroke-width="0.8"/>
<text class="b" x="818" y="416" text-anchor="middle" style="font-size:6.5px">CART CORRAL</text>
<text class="s" x="818" y="422" text-anchor="middle">LAUNDRY CARTS</text>
<rect x="773" y="427" width="87" height="21" fill="#fbfde8" stroke="#a8c020" stroke-width="1"/>
<g stroke="#a8c020" stroke-width="0.9"><line x1="788" y1="427" x2="788" y2="448"/><line x1="802" y1="427" x2="802" y2="448"/><line x1="816" y1="427" x2="816" y2="448"/><line x1="830" y1="427" x2="830" y2="448"/><line x1="844" y1="427" x2="844" y2="448"/></g>
<g stroke="#19c4d8" stroke-width="1.6"><line x1="770" y1="427" x2="770" y2="448"/></g>
<path d="M713 448 Q716 425 745 424 V448" fill="none" stroke="#f0b070" stroke-width="0.8"/>

<!-- ===== bottom wall / storefront ===== -->
<rect x="124" y="448" width="833" height="5" fill="#fffbe0" stroke="#9ad0e8" stroke-width="0.8"/>
<rect x="62" y="447" width="62" height="8" fill="#fff" stroke="#72d8a4" stroke-width="1.2"/>
<line x1="385" y1="450.5" x2="450" y2="450.5" stroke="#f0a060" stroke-width="1.4"/>
<g fill="#fff" stroke="#7ab8d8" stroke-width="0.7"><circle cx="124" cy="450.5" r="2"/><circle cx="190" cy="450.5" r="2"/><circle cx="255" cy="450.5" r="2"/><circle cx="320" cy="450.5" r="2"/><circle cx="385" cy="450.5" r="2"/><circle cx="450" cy="450.5" r="2"/><circle cx="517" cy="450.5" r="2"/><circle cx="583" cy="450.5" r="2"/><circle cx="648" cy="450.5" r="2"/><circle cx="713" cy="450.5" r="2"/><circle cx="745" cy="450.5" r="2"/><circle cx="816" cy="450.5" r="2"/><circle cx="878" cy="450.5" r="2"/><circle cx="945" cy="450.5" r="2"/></g>
<g stroke="#111" stroke-width="0.7">
<line x1="68" y1="461" x2="957" y2="461"/><line x1="68" y1="470" x2="957" y2="470"/>
<line x1="68" y1="455" x2="68" y2="474"/><line x1="385" y1="455" x2="385" y2="465"/><line x1="450" y1="455" x2="450" y2="465"/><line x1="713" y1="455" x2="713" y2="465"/><line x1="745" y1="455" x2="745" y2="465"/><line x1="770" y1="455" x2="770" y2="465"/><line x1="862" y1="455" x2="862" y2="465"/><line x1="957" y1="455" x2="957" y2="474"/>
</g>
<g fill="#fff"><rect x="210" y="456" width="32" height="9"/><rect x="403" y="456" width="28" height="9"/><rect x="565" y="456" width="32" height="9"/><rect x="718" y="456" width="22" height="9"/><rect x="748" y="456" width="18" height="9"/><rect x="801" y="456" width="28" height="9"/><rect x="895" y="456" width="28" height="9"/><rect x="502" y="465" width="36" height="9"/></g>
<text class="d" x="211" y="464">28'-6"</text><text class="d" x="404" y="464">6'-0"</text><text class="d" x="566" y="464">23'-6"</text><text class="d" x="719" y="464" style="font-size:8px">36"</text><text class="d" x="749" y="464" style="font-size:8px">24"</text><text class="d" x="802" y="464">8'-0"</text><text class="d" x="896" y="464">8'-4"</text><text class="d" x="503" y="473">80'-0"</text>

<!-- ===== title block ===== -->
<line x1="0" y1="495" x2="1024" y2="495" stroke="#e98a66" stroke-width="1.2"/>
<circle cx="29" cy="527" r="6.5" fill="none" stroke="#e8532b" stroke-width="3"/>
<path d="M31 531 l5 5" stroke="#e8532b" stroke-width="2.5"/>
<text x="40" y="533" textLength="172" lengthAdjust="spacingAndGlyphs" stroke="#e8532b" stroke-width="0.7" style="font-size:17px;font-weight:bold;fill:#e8532b">Speed Queen</text>
<text x="57" y="547" textLength="153" lengthAdjust="spacingAndGlyphs" style="font-size:9.5px;fill:#555">The Proven Performer in Laundry</text>
<text x="243" y="531" textLength="375" lengthAdjust="spacingAndGlyphs" style="font-size:30px;font-weight:bold;fill:#555">4000 SF LAUNDROMAT</text>
<text x="345" y="559" textLength="172" lengthAdjust="spacingAndGlyphs" style="font-size:30px;font-weight:bold;fill:#555">SOLUTION</text>
<g style="font-size:11px;fill:#e6683a" text-anchor="middle"><text x="684" y="521">PROJECT NO.</text><text x="780" y="521">AREA</text><text x="876" y="521">DRAWN BY</text><text x="974" y="521">DATE</text></g>
<g stroke="#ddd" stroke-width="0.8"><line x1="733" y1="507" x2="733" y2="543"/><line x1="830" y1="507" x2="830" y2="543"/><line x1="925" y1="507" x2="925" y2="543"/></g>
<g style="font-size:9px;fill:#444" text-anchor="middle"><text x="684" y="538">LDR-****</text><text x="780" y="538">4000</text><text x="876" y="538">KRP</text><text x="972" y="538">11-Aug-22</text></g>
<text x="648" y="556" textLength="368" lengthAdjust="spacingAndGlyphs" style="font-size:6.3px;fill:#666">NOT FOR CONSTRUCTION PURPOSES. Equipment specifications are subject to change without notice. Please</text>
<text x="648" y="564" textLength="290" lengthAdjust="spacingAndGlyphs" style="font-size:6.3px;fill:#666">see equipment installation manuals for updated equipment installation requirements.</text>
</svg>
</body></html>
